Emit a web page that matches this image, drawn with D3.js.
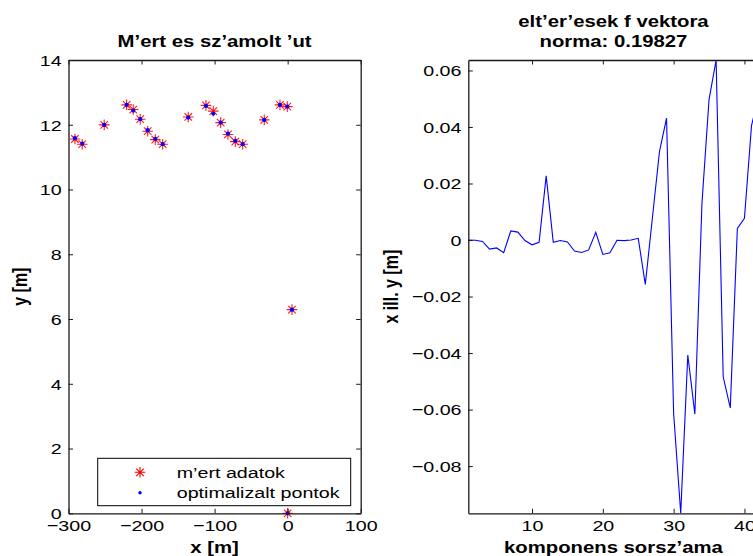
<!DOCTYPE html>
<html>
<head>
<meta charset="utf-8">
<script src="https://cdn.jsdelivr.net/npm/d3@7"></script>
<style>
  html, body { margin: 0; padding: 0; background: #fff; }
  svg { display: block; font-family: "Liberation Sans", Arial, Helvetica, sans-serif; }
</style>
</head>
<body>
<svg id="fig" width="753" height="556"></svg>
<script>
// ---- data -------------------------------------------------------------
// optimised path points (x, y in metres)
const optX = [-291.2, -281.2, -251.1, -220.4, -211.4, -201.8, -191.6, -181.2, -171.1,
              -136.1, -111.8, -101.8, -91.7, -81.7, -71.7, -61.6, -32.0, -10.5, -0.5, 5.9, 0];
const optY = [11.585, 11.418, 11.996, 12.614, 12.438, 12.172, 11.832, 11.563, 11.400,
              12.221, 12.583, 12.345, 12.067, 11.727, 11.502, 11.400, 12.150, 12.614, 12.561, 6.290, 0];
// measured points
const mertX = [-291.2, -281.2, -251.1, -220.4, -211.4, -201.8, -191.6, -181.2, -171.1,
               -136.1, -111.8, -101.8, -91.7, -81.7, -71.7, -61.6, -32.0, -10.5, -0.5, 5.9, 0];
const mertY = [11.560, 11.400, 11.996, 12.614, 12.470, 12.172, 11.800, 11.540, 11.400,
               12.240, 12.600, 12.420, 12.067, 11.700, 11.480, 11.400, 12.150, 12.614, 12.561, 6.290, 0];

// deviation vector f, components 1..42
const fIndex = d3.range(1, 43);
const fValues = [0, -0.0001, -0.0005, -0.0032, -0.0028, -0.0045, 0.0032, 0.0028, -0.0002, -0.0017,
                 -0.0008, 0.0227, -0.0008, -0.0002, -0.0007, -0.0039, -0.0044, -0.0035, 0.0027, -0.0051,
                 -0.0045, -0.0001, -0.0002, 0.0000, 0.0006, -0.0157, 0.0078, 0.0313, 0.0431, -0.0613,
                 -0.0967, -0.0407, -0.0616, 0.0130, 0.0497, 0.0637, -0.0484, -0.0594, 0.0041, 0.0077,
                 0.0405, 0.0510];

const xTicksLeft = [-300, -200, -100, 0, 100];
const yTicksLeft = [0, 2, 4, 6, 8, 10, 12, 14];
const xTicksRight = [10, 20, 30, 40];
const yTicksRight = [-0.08, -0.06, -0.04, -0.02, 0, 0.02, 0.04, 0.06];
const legendLabels = ["m\u2019ert adatok", "optimalizalt pontok"];
const leftTitle = "M\u2019ert es sz\u2019amolt \u2019ut";
const rightTitle = ["elt\u2019er\u2019esek f vektora", "norma: 0.19827"];

// ---- layout -----------------------------------------------------------
const SX = 1.27;           // horizontal text stretch
const TICK_FONT = 15.5, LABEL_FONT = 16;
const plotTop = 60, plotBottom = 513.3;
const L = { x0: 68.5, x1: 360.7 };
const R = { x0: 468.3, x1: 758.6 };
const TICK = 4.5;

const svg = d3.select("#fig");

const xL = d3.scaleLinear().domain([-300, 100]).range([L.x0, L.x1]);
const yL = d3.scaleLinear().domain([0, 14]).range([plotBottom, plotTop]);
const xR = d3.scaleLinear().domain(d3.extent(fIndex)).range([R.x0, R.x1]);
const yR = d3.scaleLinear().domain(d3.extent(fValues)).range([plotBottom, plotTop]);

const fmtLeft = d => d3.format("d")(d);
const fmtRight = d => d === 0 ? "0" : d3.format(".2f")(d);

function drawAxes(g, x, y, xt, yt, xfmt, yfmt) {
  const common = a => a.tickSizeInner(-TICK).tickSizeOuter(0).tickPadding(0);
  const b = g.append("g").attr("transform", `translate(0,${plotBottom})`)
    .call(common(d3.axisBottom(x).tickValues(xt).tickFormat(xfmt)));
  const t = g.append("g").attr("transform", `translate(0,${plotTop})`)
    .call(common(d3.axisTop(x).tickValues(xt).tickFormat("")));
  const l = g.append("g").attr("transform", `translate(${x.range()[0]},0)`)
    .call(common(d3.axisLeft(y).tickValues(yt).tickFormat(yfmt)));
  const r = g.append("g").attr("transform", `translate(${x.range()[1]},0)`)
    .call(common(d3.axisRight(y).tickValues(yt).tickFormat("")));
  [b, t, l, r].forEach(a => {
    a.attr("color", "#1a1a1a");
    a.select(".domain").attr("stroke-width", 1.3);
    a.selectAll(".tick line").attr("stroke-width", 1);
  });
  b.selectAll(".tick text")
    .attr("font-size", TICK_FONT).attr("font-family", null).attr("fill", "#000")
    .attr("dy", "0").attr("y", 17.4).attr("transform", `scale(${SX},1)`);
  l.selectAll(".tick text")
    .attr("font-size", TICK_FONT).attr("font-family", null).attr("fill", "#000")
    .attr("x", -6.8 / SX).attr("dy", "0.34em").attr("transform", `scale(${SX},1)`);
}

function starPath(cx, cy, r) {
  const d = r * Math.SQRT1_2;
  return `M${cx - r},${cy}H${cx + r}M${cx},${cy - r}V${cy + r}` +
         `M${cx - d},${cy - d}L${cx + d},${cy + d}M${cx - d},${cy + d}L${cx + d},${cy - d}`;
}

function text(g, str, x, y, opts = {}) {
  const rot = opts.rotate ? " rotate(-90)" : "";
  return g.append("text")
    .attr("transform", `translate(${x},${y}) scale(${SX},1)${rot}`)
    .attr("text-anchor", opts.anchor || "middle")
    .attr("font-size", opts.size || LABEL_FONT)
    .attr("font-weight", opts.bold ? "bold" : "normal")
    .attr("fill", "#000")
    .text(str);
}

// ---- left panel: measured vs. computed path ---------------------------
const gL = svg.append("g");
const pts = optX.map((v, i) => ({ ox: v, oy: optY[i], mx: mertX[i], my: mertY[i] }));

gL.append("g").selectAll("path").data(pts).join("path")
  .attr("d", d => starPath(xL(d.mx), yL(d.my), 5.3))
  .attr("stroke", "#ff0000").attr("stroke-width", 1.1).attr("fill", "none")
  .attr("stroke-opacity", 0.9);
gL.append("g").selectAll("circle").data(pts).join("circle")
  .attr("cx", d => xL(d.ox)).attr("cy", d => yL(d.oy)).attr("r", 2.1)
  .attr("fill", "#0000ff");

drawAxes(gL, xL, yL, xTicksLeft, yTicksLeft, fmtLeft, fmtLeft);

text(gL, leftTitle, (L.x0 + L.x1) / 2, 46.5, { bold: true });
text(gL, "x [m]", (L.x0 + L.x1) / 2, 552.5, { bold: true });
text(gL, "y [m]", 27, (plotTop + plotBottom) / 2, { bold: true, rotate: true });

// legend
const lg = gL.append("g");
lg.append("rect").attr("x", 97.7).attr("y", 458.3).attr("width", 253).attr("height", 47.4)
  .attr("fill", "#fff").attr("stroke", "#000").attr("stroke-width", 1);
lg.append("path").attr("d", starPath(140, 472.3, 5.3))
  .attr("stroke", "#ff0000").attr("stroke-width", 1.1).attr("fill", "none");
lg.append("circle").attr("cx", 140).attr("cy", 492.7).attr("r", 1.7).attr("fill", "#0000ff");
legendLabels.forEach((s, i) => {
  text(lg, s, 176.7, 478.3 + i * 20, { anchor: "start", size: TICK_FONT });
});

// ---- right panel: deviation vector -------------------------------------
const gR = svg.append("g");
const line = d3.line().x((d, i) => xR(fIndex[i])).y(d => yR(d));
gR.append("path").datum(fValues)
  .attr("d", line).attr("fill", "none")
  .attr("stroke", "#0000ff").attr("stroke-width", 1.1).attr("stroke-linejoin", "miter");

drawAxes(gR, xR, yR, xTicksRight, yTicksRight, d3.format("d"), fmtRight);

const cR = (R.x0 + R.x1) / 2;
text(gR, rightTitle[0], cR, 26.7, { bold: true });
text(gR, rightTitle[1], cR, 46.7, { bold: true });
text(gR, "komponens sorsz\u2019ama", cR, 552.5, { bold: true });
text(gR, "x ill. y [m]", 398, (plotTop + plotBottom) / 2, { bold: true, rotate: true });
</script>
</body>
</html>
